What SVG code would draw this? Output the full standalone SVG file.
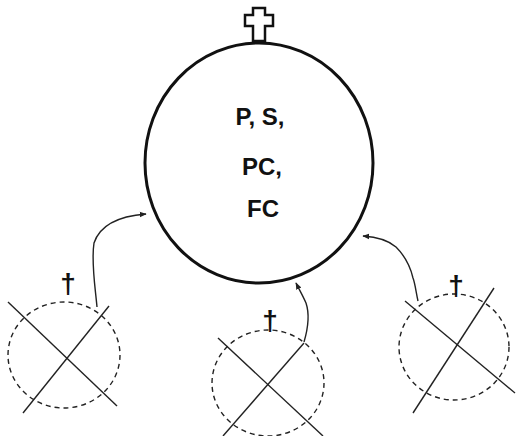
<svg xmlns="http://www.w3.org/2000/svg" width="516" height="436" viewBox="0 0 516 436">
<style>
.lbl{font-family:"Liberation Sans",Arial,sans-serif;font-weight:bold;font-size:24px;fill:#111;text-anchor:middle}
.dag{font-family:"Liberation Sans",Arial,sans-serif;font-weight:bold;font-size:28px;fill:#111;text-anchor:middle}
.dash{fill:none;stroke:#222;stroke-width:1.4;stroke-dasharray:5 4}
.x{stroke:#222;stroke-width:1.4;fill:none}
.conn{fill:none;stroke:#222;stroke-width:1.4;marker-end:url(#ah)}
</style>
<defs>
<marker id="ah" viewBox="0 0 10 10" refX="9" refY="5" markerWidth="7" markerHeight="7" orient="auto" markerUnits="userSpaceOnUse">
<path d="M0,1 L10,5 L0,9 Z" fill="#222"/>
</marker>
</defs>
<rect width="516" height="436" fill="#fff"/>
<g id="main">
<ellipse cx="259" cy="163" rx="114" ry="120" fill="none" stroke="#111" stroke-width="3"/>
<polygon points="253,8 265,8 265,15 273,15 273,26 265,26 265,41 253,41 253,26 245,26 245,15 253,15" fill="#fff" stroke="#111" stroke-width="2.5" stroke-linejoin="miter"/>
<text class="lbl" x="260" y="125">P, S,</text>
<text class="lbl" x="262" y="175">PC,</text>
<text class="lbl" x="263" y="217">FC</text>
</g>
<g id="left">
<ellipse class="dash" cx="64" cy="355" rx="56" ry="53"/>
<line class="x" x1="8" y1="302" x2="117" y2="406"/>
<line class="x" x1="109" y1="306" x2="23" y2="413"/>
<text class="dag" x="68" y="293">†</text>
</g>
<g id="middle">
<ellipse class="dash" cx="268" cy="383" rx="56" ry="53"/>
<line class="x" x1="218" y1="338" x2="323" y2="436"/>
<line class="x" x1="304" y1="343" x2="223" y2="436"/>
<text class="dag" x="270" y="330">†</text>
</g>
<g id="right">
<ellipse class="dash" cx="454" cy="347" rx="55" ry="53"/>
<line class="x" x1="405" y1="301" x2="515" y2="393"/>
<line class="x" x1="494" y1="288" x2="413" y2="413"/>
<text class="dag" x="456" y="295">†</text>
</g>
<g id="connectors">
<path class="conn" d="M97,307 C95,285 91,262 94,243 C100,225 120,216 146,214"/>
<path class="conn" d="M304,342 C309,325 309,312 306,303 C303,296 300,291 296,283"/>
<path class="conn" d="M418,301 C416,292 415,283 413,278 C410,265 404,255 396,247 C388,240 378,237 363,236"/>
</g>
</svg>
